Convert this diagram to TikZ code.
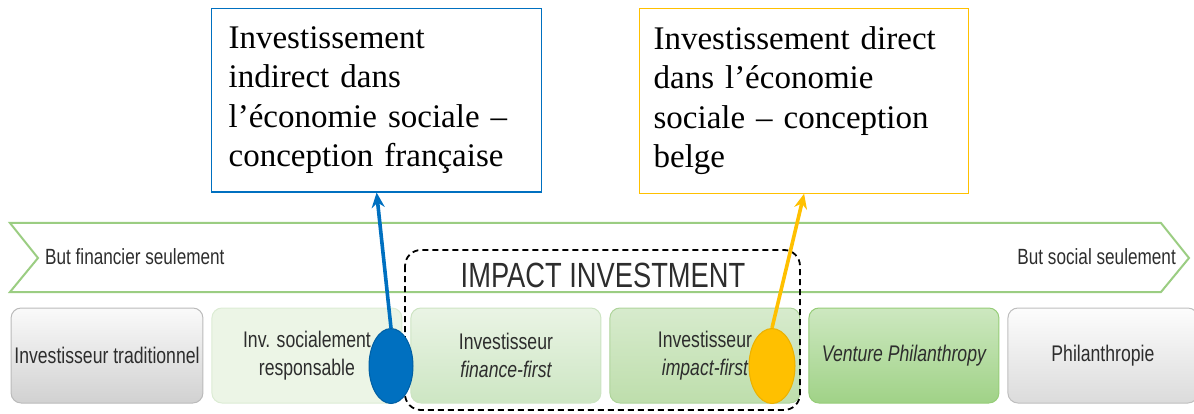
\documentclass[tikz,border=0pt]{standalone}
\usepackage{fontspec}
\setmainfont{Liberation Serif}
\newfontfamily\narrowsans[FakeStretch=0.78]{Liberation Sans}
\usetikzlibrary{positioning,shapes.geometric,arrows.meta}

\definecolor{frblue}{RGB}{0,112,192}
\definecolor{begold}{RGB}{255,192,0}
\definecolor{scalegreen}{RGB}{155,205,130}
\definecolor{labelgray}{RGB}{45,45,45}

\begin{document}
\begin{tikzpicture}[x=1pt,y=-1pt,
    stage/.style={rounded corners=10pt,minimum width=190pt,minimum height=95pt,
      align=center,text=labelgray,font=\narrowsans\fontsize{22.6}{28}\selectfont,line width=1pt},
    concept/.style={anchor=north west,draw,line width=1.2pt,align=left,
      inner ysep=18pt,font=\fontsize{33}{39.5}\selectfont},
    marker/.style={ellipse,inner sep=0pt,minimum width=44pt,minimum height=75pt,line width=1pt},
    pointer/.style={line width=3.6pt,-{Stealth[length=15pt,width=13pt]}}]
  \useasboundingbox (0,0) rectangle (1194,414);

  % the two conceptions
  \node[concept,draw=frblue,text width=296pt,inner xsep=17pt] (indirect) at (211,8)
    {Investissement\\indirect dans\\l’économie sociale –\\conception française};
  \node[concept,draw=begold,text width=301pt,inner xsep=14pt] (direct) at (639,8)
    {Investissement direct\\dans l’économie\\sociale – conception\\belge};

  % scale from financial to social goal
  \draw[scalegreen,line width=2pt] (10,223) -- (1161,223) -- (1189,258) -- (1161,292)
    -- (10,292) -- (38,258) -- cycle;
  \node[anchor=base west,text=labelgray,font=\narrowsans\fontsize{22}{26}\selectfont,inner sep=0pt]
    (fingoal) at (45,265) {But financier seulement};
  \node[anchor=base east,text=labelgray,font=\narrowsans\fontsize{22}{26}\selectfont,inner sep=0pt]
    (socgoal) at (1176,265) {But social seulement};

  % investor types
  \node[stage,draw=black!27,top color=black!2,bottom color=black!18] (trad) at (107,355.5)
    {Investisseur traditionnel};
  \node[stage,draw={rgb,255:red,220;green,236;blue,212},fill={rgb,255:red,236;green,245;blue,230},
    right=8pt of trad] (isr) {Inv. socialement\\responsable};
  \node[stage,draw={rgb,255:red,205;green,228;blue,195},top color={rgb,255:red,234;green,244;blue,229},
    bottom color={rgb,255:red,205;green,230;blue,195},right=8pt of isr] (finfirst)
    {Investisseur\\\itshape finance-first};
  \node[stage,draw={rgb,255:red,175;green,212;blue,155},top color={rgb,255:red,215;green,235;blue,205},
    bottom color={rgb,255:red,190;green,222;blue,172},right=8pt of finfirst] (impfirst)
    {Investisseur\\\itshape impact-first};
  \node[stage,draw={rgb,255:red,150;green,205;blue,120},top color={rgb,255:red,205;green,232;blue,192},
    bottom color={rgb,255:red,160;green,210;blue,135},right=8pt of impfirst] (venture)
    {\itshape Venture Philanthropy};
  \node[stage,draw=black!25,top color=black!1,bottom color=black!14,right=8pt of venture] (philan)
    {Philanthropie};

  % impact investment frame
  \draw[dashed,line width=1.8pt,rounded corners=16pt,dash pattern=on 6pt off 4pt]
    (405,250) rectangle (800,410);
  \node[text=labelgray,font=\narrowsans\fontsize{35}{40}\selectfont,inner sep=0pt,anchor=base]
    (impact) at (603,287) {IMPACT INVESTMENT};

  \node[marker,fill=frblue,draw=frblue!85!black] (bluedot) at (391,366) {};
  \node[marker,fill=begold,draw=begold!92!black,minimum width=46pt] (golddot) at (772,366) {};

  \draw[pointer,frblue] (bluedot.north) -- (indirect.south);
  \draw[pointer,begold] (golddot.north) -- (direct.south);
\end{tikzpicture}
\end{document}
